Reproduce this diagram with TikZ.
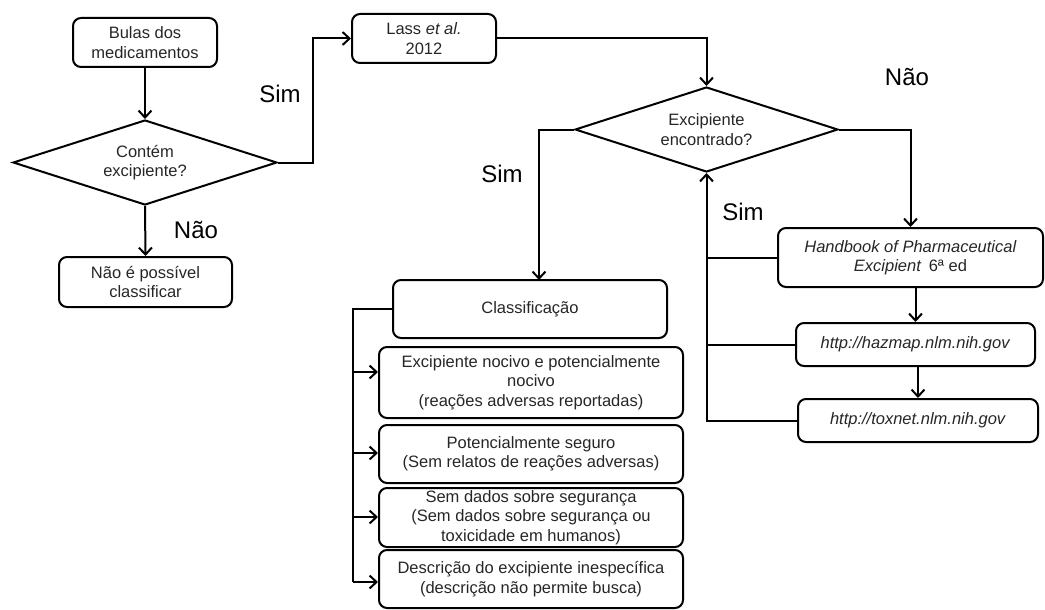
\documentclass[tikz,border=0pt]{standalone}
\usepackage{fontspec}
\setmainfont{Liberation Sans}
\usetikzlibrary{shapes.geometric,arrows.meta,calc}
\begin{document}
\begin{tikzpicture}[x=1pt,y=-1pt,
  every node/.style={text=black!85},
  boxn/.style={draw=black,line width=2pt,rounded corners=8pt,align=center,inner sep=0pt,
    font=\fontsize{16.5}{19.5}\selectfont},
  dia/.style={draw=black,line width=2pt,diamond,aspect=3,inner sep=0pt,align=center,
    font=\fontsize{16.5}{19.5}\selectfont},
  lbl/.style={font=\fontsize{24}{28}\selectfont,text=black},
  conn/.style={line width=2pt,draw=black},
  arr/.style={conn,-{Straight Barb[length=7pt,width=13pt,line width=2pt]}}]
\useasboundingbox (0,0) rectangle (1045,610);
% nodes
\node[boxn,minimum width=144pt,minimum height=49pt] (bulas) at (145,42.5) {Bulas dos\\medicamentos};
\node[dia,minimum width=264pt,minimum height=85pt] (d1) at (145,162.5) {Contém\\excipiente?};
\node[boxn,minimum width=173pt,minimum height=50pt] (nao) at (145.5,282) {Não é possível\\classificar};
\node[boxn,minimum width=144pt,minimum height=49pt] (lass) at (424,38.5) {Lass \textit{et al.}\\2012};
\node[dia,minimum width=263pt,minimum height=85pt] (d2) at (706.5,129.5) {Excipiente\\encontrado?};
\node[boxn,minimum width=274pt,minimum height=58pt] (class) at (530,309) {Classificação};
\node[boxn,minimum width=304pt,minimum height=71pt] (c1) at (531,382.5) {Excipiente nocivo e potencialmente\\nocivo\\(reações adversas reportadas)};
\node[boxn,minimum width=304pt,minimum height=58pt] (c2) at (531,454) {Potencialmente seguro\\(Sem relatos de reações adversas)};
\node[boxn,minimum width=304pt,minimum height=59pt] (c3) at (531,517.5) {Sem dados sobre segurança\\(Sem dados sobre segurança ou\\toxicidade em humanos)};
\node[boxn,minimum width=304pt,minimum height=58pt] (c4) at (531,579) {Descrição do excipiente inespecífica\\(descrição não permite busca)};
\node[boxn,minimum width=265pt,minimum height=59pt] (hb) at (910.5,257.5) {\textit{Handbook of Pharmaceutical}\\\textit{Excipient} \,6ª ed};
\node[boxn,minimum width=239pt,minimum height=43pt] (hz) at (915.5,344.5) {\textit{http://hazmap.nlm.nih.gov}};
\node[boxn,minimum width=240pt,minimum height=43pt] (tx) at (918,420.5) {\textit{http://toxnet.nlm.nih.gov}};
% labels
\node[lbl] (simA) at (280,94) {Sim};
\node[lbl] (naoA) at (196,230) {Não};
\node[lbl] (simB) at (502,174) {Sim};
\node[lbl] (naoB) at (907,77) {Não};
\node[lbl] (simC) at (743,212) {Sim};
% helper coordinates
\coordinate (j1) at (313,162.5);
\coordinate (j2) at (539,280);
\coordinate (fb) at (706.5,420.5);
\coordinate (bus) at (353,582);
% connectors
\draw[arr] (bulas.south) -- (d1.north);
\draw[arr] (d1.south) -- (nao.north);
\draw[arr] (d1.east) -- (j1) |- (lass.west);
\draw[arr] (lass.east) -| (d2.north);
\draw[arr] (d2.west) -| (j2);
\draw[arr] (d2.east) -| (hb.north);
\draw[arr] (hz.north |- hb.south) -- (hz.north);
\draw[arr] (tx.north |- hz.south) -- (tx.north);
\draw[arr] (tx.west) -- (fb) -- (d2.south);
\draw[conn] (hb.west) -- (hb.west -| fb);
\draw[conn] (hz.west) -- (hz.west -| fb);
\draw[conn] (class.west) -| (bus);
\draw[arr] (353,372) -- (c1.west |- 0,372);
\draw[arr] (353,453) -- (c2.west |- 0,453);
\draw[arr] (353,517) -- (c3.west |- 0,517);
\draw[arr] (bus) -- (c4.west |- bus);
\end{tikzpicture}
\end{document}
